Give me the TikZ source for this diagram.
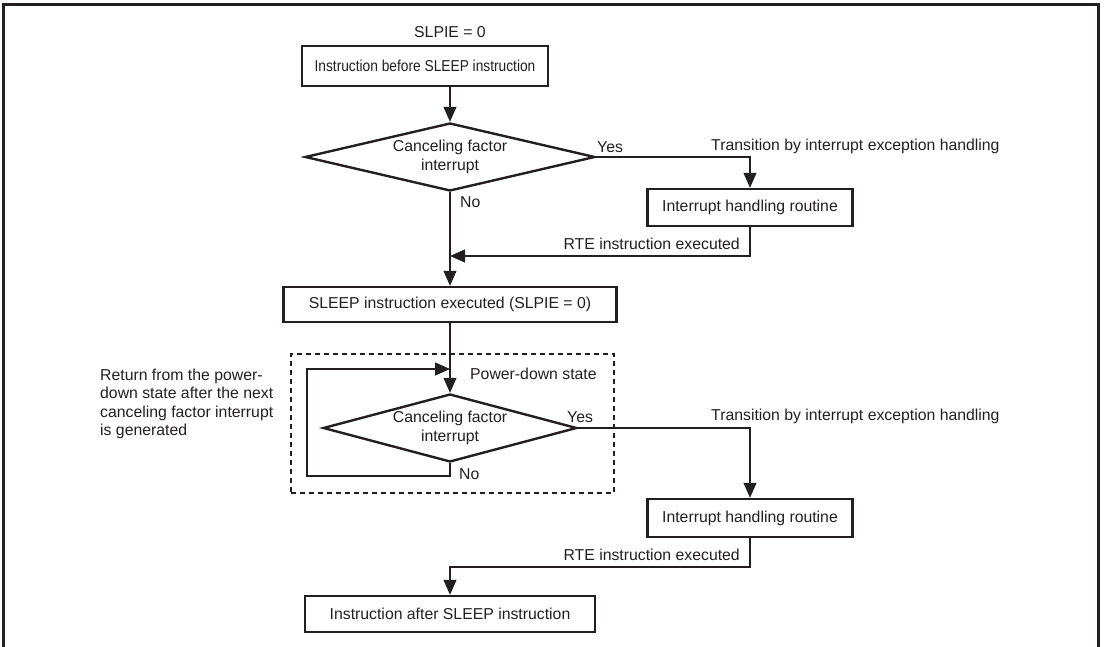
\documentclass[tikz,border=0pt]{standalone}
\usepackage{fontspec}
\setmainfont{Liberation Sans}
\usetikzlibrary{shapes.geometric,arrows.meta}
\definecolor{ink}{HTML}{231F20}
\begin{document}
\begin{tikzpicture}[x=1pt,y=-1pt,
  every node/.style={font=\fontsize{15.8}{18.5}\selectfont, text=ink},
  box/.style={draw=ink, line width=2.4pt, minimum height=37pt, inner sep=0pt},
  dia/.style={diamond, draw=ink, line width=2.4pt, inner sep=0pt, aspect=4.2, align=center, minimum height=68pt},
  conn/.style={draw=ink, line width=1.2pt, -{Triangle[length=15pt,width=13pt]}},
  lbl/.style={inner sep=0pt},
  pdbox/.style={draw=ink, line width=1.1pt, dash pattern=on 5pt off 4pt, inner sep=0pt}
]
\useasboundingbox (0,0) rectangle (1104,647);
% outer frame
\draw[ink, line width=3pt] (3,647) -- (3,5) -- (1098,5) -- (1098,647);

% nodes
\node[lbl] (slpie) at (450,32) {SLPIE = 0};
\node[box, minimum width=246pt, minimum height=40pt] (b1) at (425,66) {\scalebox{0.87}[1]{Instruction before SLEEP instruction}};
\node[dia, minimum width=290pt] (d1) at (450,157) {Canceling factor\\interrupt};
\node[box, minimum width=205pt] (ih1) at (750,207.5) {Interrupt handling routine};
\node[box, minimum width=333pt, minimum height=35pt] (sl) at (450,304.5) {SLEEP instruction executed (SLPIE = 0)};
\node[pdbox, minimum width=323pt, minimum height=139pt] (pd) at (452.5,423.5) {};
\node[dia, minimum width=228pt] (d2) at (450,428) {Canceling factor\\interrupt};
\node[box, minimum width=205pt, minimum height=38pt] (ih2) at (750,518) {Interrupt handling routine};
\node[box, minimum width=290pt, minimum height=36pt] (ia) at (450,614) {Instruction after SLEEP instruction};

% labels
\node[lbl, anchor=west] (yes1) at (597,147) {Yes};
\node[lbl, anchor=west] (tr1) at (711,146) {Transition by interrupt exception handling};
\node[lbl, anchor=west] (no1) at (460,202) {No};
\node[lbl, anchor=east] (rte1) at (740,244) {RTE instruction executed};
\node[lbl, anchor=west] (pdl) at (470,374) {Power-down state};
\node[lbl, anchor=west, align=left] (ret) at (100,404) {Return from the power-\\down state after the next\\canceling factor interrupt\\is generated};
\node[lbl, anchor=west] (yes2) at (567,417) {Yes};
\node[lbl, anchor=west] (tr2) at (711,416) {Transition by interrupt exception handling};
\node[lbl, anchor=west] (no2) at (459,474) {No};
\node[lbl, anchor=east] (rte2) at (740,555) {RTE instruction executed};

% junction coordinates
\coordinate (j1) at (450,256);
\coordinate (ll) at (307,476);
\coordinate (j2) at (450,369);
\coordinate (j3) at (450,567);

% connectors
\draw[conn] (b1.south -| d1.north) -- (d1.north);
\draw[conn] (d1.east) -| (ih1.north);
\draw[conn] (ih1.south) |- (j1);
\draw[conn] (d1.south) -- (sl.north);
\draw[conn] (sl.south) -- (d2.north);
\draw[conn] (d2.south) |- (ll) |- (j2);
\draw[conn] (d2.east) -| (ih2.north);
\draw[conn] (ih2.south) |- (j3) -- (ia.north);
\end{tikzpicture}
\end{document}
